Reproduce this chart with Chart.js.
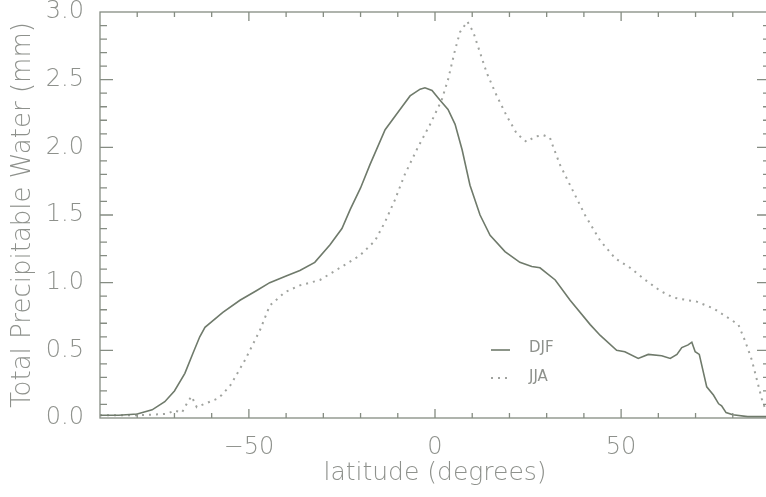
<!DOCTYPE html>
<html>
<head>
<meta charset="utf-8">
<script src="https://cdn.jsdelivr.net/npm/chart.js@4/dist/chart.umd.min.js"></script>
<style>
  html, body { margin: 0; padding: 0; background: #fff; overflow: hidden; }
  canvas { display: block; }
</style>
</head>
<body>
<canvas id="myChart" width="772" height="497"></canvas>
<script>
// latitude (degrees) and total precipitable water
var djfLat = [-90, -85, -80, -76, -72.6, -70, -67.2, -65, -63.2, -61.8, -57, -52.4, -48, -44.4, -40, -36.3, -32.3, -28.2, -25, -22.8, -20, -17.5, -13.4, -9.4, -6.7, -4, -2.7, -0.8, 1.3, 3.5, 5.4, 7.3, 9.4, 12.1, 14.8, 18.8, 22.8, 26, 28.2, 32.3, 36.3, 41.7, 44.4, 48.8, 51, 54.6, 57.3, 60.9, 63.2, 65, 66.3, 68, 69, 69.9, 71, 73, 74.8, 76.2, 77, 78.2, 80, 84, 90];
var djfVal = [0.02, 0.02, 0.03, 0.06, 0.12, 0.2, 0.33, 0.48, 0.6, 0.67, 0.78, 0.87, 0.94, 1.0, 1.05, 1.09, 1.15, 1.28, 1.4, 1.54, 1.7, 1.87, 2.13, 2.28, 2.38, 2.43, 2.44, 2.42, 2.35, 2.28, 2.17, 1.98, 1.72, 1.5, 1.35, 1.23, 1.15, 1.12, 1.11, 1.02, 0.87, 0.69, 0.61, 0.5, 0.49, 0.44, 0.47, 0.46, 0.44, 0.47, 0.52, 0.54, 0.56, 0.49, 0.47, 0.23, 0.17, 0.105, 0.09, 0.04, 0.024, 0.01, 0.01];

var jjaLat = [-90, -80, -72, -70, -68, -66.4, -65.4, -64, -61.4, -58.7, -57.3, -55, -51, -47, -44.4, -40.3, -36.3, -30.9, -25.5, -20.2, -16.1, -13.4, -10.8, -8.1, -4.6, -1.3, 1.8, 3.5, 5.4, 6.7, 8.7, 10.3, 12.1, 13.9, 16.6, 19.3, 22, 24.6, 26.9, 29.1, 30.9, 31.8, 33.6, 36.3, 40.3, 44.4, 48.4, 52.4, 56.5, 60.5, 64, 68, 70.3, 74.8, 79.3, 81.5, 83.3, 85.1, 86.5, 87.8, 88.7, 90];
var jjaVal = [0.02, 0.02, 0.03, 0.055, 0.04, 0.12, 0.16, 0.08, 0.11, 0.14, 0.17, 0.24, 0.43, 0.65, 0.83, 0.93, 0.98, 1.02, 1.11, 1.2, 1.31, 1.45, 1.61, 1.8, 2.0, 2.17, 2.35, 2.5, 2.72, 2.85, 2.93, 2.85, 2.7, 2.55, 2.38, 2.23, 2.1, 2.04, 2.08, 2.09, 2.07, 2.0, 1.87, 1.72, 1.5, 1.31, 1.18, 1.11, 1.02, 0.94, 0.89, 0.87, 0.86, 0.81, 0.73, 0.69, 0.57, 0.43, 0.28, 0.14, 0.07, 0.02];

var xTicks = [-50, 0, 50];
var yTicks = [0, 0.5, 1.0, 1.5, 2.0, 2.5, 3.0];
var seriesNames = ['DJF', 'JJA'];

var axisColor = '#858c82';
var textColor = '#8e918c';
var fontFam = '"DejaVu Sans", sans-serif';

function toPoints(xs, ys) {
    return xs.map(function(x, i) { return { x: x, y: ys[i] }; });
}

// frame, inward ticks and the little legend, like the IDL plot
var framePlugin = {
    id: 'frame',
    afterDraw: function(chart) {
        var c = chart.ctx, a = chart.chartArea;
        var xs = chart.scales.x, ys = chart.scales.y;
        c.save();
        c.strokeStyle = axisColor;
        c.lineWidth = 1.3;
        c.strokeRect(a.left, a.top, a.right - a.left, a.bottom - a.top);
        c.beginPath();
        for (var lat = -80; lat <= 80; lat += 10) {
            var px = xs.getPixelForValue(lat);
            var len = (lat % 50 === 0) ? 9 : 5;
            c.moveTo(px, a.bottom); c.lineTo(px, a.bottom - len);
            c.moveTo(px, a.top); c.lineTo(px, a.top + len);
        }
        for (var k = 1; k < 30; k++) {
            var py = ys.getPixelForValue(k / 10);
            var ln = (k % 5 === 0) ? 13 : 7;
            c.moveTo(a.left, py); c.lineTo(a.left + ln, py);
            c.moveTo(a.right, py); c.lineTo(a.right - ln, py);
        }
        c.stroke();

        // legend
        var lx = 491, ly = 350;
        c.font = '15px ' + fontFam;
        c.fillStyle = textColor;
        c.textBaseline = 'middle';
        c.strokeStyle = chart.data.datasets[0].borderColor;
        c.lineWidth = 1.6;
        c.beginPath(); c.moveTo(lx, ly); c.lineTo(lx + 19, ly); c.stroke();
        c.fillText(seriesNames[0], lx + 38, ly - 2);
        c.strokeStyle = chart.data.datasets[1].borderColor;
        c.lineWidth = 2;
        c.setLineDash([2, 5]);
        c.beginPath(); c.moveTo(lx, ly + 28); c.lineTo(lx + 19, ly + 28); c.stroke();
        c.setLineDash([]);
        c.fillText(seriesNames[1], lx + 38, ly + 27);
        c.restore();
    }
};

var ctx = document.getElementById('myChart').getContext('2d');
var myChart = new Chart(ctx, {
    type: 'line',
    data: {
        datasets: [{
            label: seriesNames[0],
            data: toPoints(djfLat, djfVal),
            borderColor: '#6f7a6b',
            borderWidth: 1.6,
            pointRadius: 0,
            tension: 0
        }, {
            label: seriesNames[1],
            data: toPoints(jjaLat, jjaVal),
            borderColor: '#a0a39f',
            borderWidth: 2,
            borderDash: [2, 5],
            pointRadius: 0,
            tension: 0
        }]
    },
    options: {
        responsive: false,
        animation: false,
        layout: { padding: { top: 12, right: 2, left: 0, bottom: 0 } },
        plugins: { legend: { display: false }, tooltip: { enabled: false } },
        scales: {
            x: {
                type: 'linear',
                min: -90, max: 90,
                afterFit: function(s) { s.height = 79; s.paddingLeft = 0; s.paddingRight = 0; },
                afterBuildTicks: function(s) { s.ticks = xTicks.map(function(v) { return { value: v }; }); },
                grid: { display: false },
                border: { display: false },
                ticks: {
                    color: textColor,
                    font: { family: fontFam, size: 24, weight: 200 },
                    padding: 7,
                    maxRotation: 0,
                    callback: function(v) { return String(v).replace('-', '\u2212'); }
                },
                title: {
                    display: true,
                    text: 'latitude (degrees)',
                    color: textColor,
                    font: { family: fontFam, size: 25, weight: 200 },
                    padding: { top: 0, bottom: 9 }
                }
            },
            y: {
                min: 0, max: 3,
                afterFit: function(s) { s.width = 100; s.paddingTop = 0; s.paddingBottom = 0; },
                afterBuildTicks: function(s) { s.ticks = yTicks.map(function(v) { return { value: v }; }); },
                grid: { display: false },
                border: { display: false },
                ticks: {
                    color: textColor,
                    font: { family: fontFam, size: 24, weight: 200 },
                    padding: 8,
                    callback: function(v) { return v.toFixed(1); }
                },
                title: {
                    display: true,
                    text: 'Total Precipitable Water (mm)',
                    color: textColor,
                    font: { family: fontFam, size: 26, weight: 200 },
                    padding: { top: 8, bottom: 0 }
                }
            }
        }
    },
    plugins: [framePlugin]
});
</script>
</body>
</html>
